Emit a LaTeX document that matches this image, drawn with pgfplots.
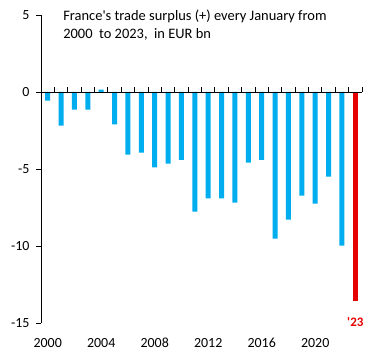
\documentclass[border=0pt]{standalone}
\usepackage{pgfplots}
\pgfplotsset{compat=1.18}
\usepackage{fontspec}
\setmainfont{Carlito}
\definecolor{barblue}{RGB}{0,174,239}
\definecolor{barred}{RGB}{230,0,0}
\begin{document}
\begin{tikzpicture}
\begin{axis}[
  scale only axis,
  width=321bp, height=308bp,
  xmin=-0.5, xmax=23.5,
  ymin=-15, ymax=5,
  axis y line=left,
  axis x line=bottom,
  x axis line style={draw=none},
  xtick=\empty,
  ytick={-15,-10,-5,0,5},
  yticklabels={-15,-10,-5,0,5},
  /pgf/number format/assume math mode=true,
  tick align=outside,
  major tick length=5bp,
  y axis line style={-,black,line width=0.8pt},
  ytick style={black,line width=0.8pt},
  yticklabel style={font=\fontsize{14}{16}\selectfont, xshift=-3bp},
  clip=false,
]
\addplot[ybar, bar width=5bp, fill=barblue, draw=none] coordinates {
(0,-0.56) (1,-2.19) (2,-1.15) (3,-1.15) (4,0.15) (5,-2.1) (6,-4.07) (7,-3.94)
(8,-4.9) (9,-4.65) (10,-4.4) (11,-7.77) (12,-6.9) (13,-6.9) (14,-7.19) (15,-4.59)
(16,-4.4) (17,-9.52) (18,-8.29) (19,-6.73) (20,-7.25) (21,-5.5) (22,-9.98)
};
\addplot[ybar, bar width=5bp, fill=barred, draw=none] coordinates {(23,-13.6)};
\addplot[ycomb, black, line width=0.8pt, no marks] coordinates {
(-0.5,0.3) (0.5,0.3) (1.5,0.3) (2.5,0.3) (3.5,0.3) (4.5,0.3) (5.5,0.3) (6.5,0.3)
(7.5,0.3) (8.5,0.3) (9.5,0.3) (10.5,0.3) (11.5,0.3) (12.5,0.3) (13.5,0.3) (14.5,0.3)
(15.5,0.3) (16.5,0.3) (17.5,0.3) (18.5,0.3) (19.5,0.3) (20.5,0.3) (21.5,0.3) (22.5,0.3) (23.5,0.3)
};
\draw[black,line width=0.8pt] (axis cs:-0.5,0) -- (axis cs:23.5,0);
\pgfplotsinvokeforeach{0,4,8,12,16,20}{\node[anchor=base,font=\fontsize{14}{16}\selectfont] at ([yshift=-24bp]axis cs:#1,-15) {\the\numexpr2000+#1\relax};}
\node[anchor=center,text=barred,font=\fontsize{13}{15}\selectfont\bfseries] at ([yshift=1bp]axis cs:23,-15) {\textquotesingle23};
\node[anchor=north west,align=left,inner sep=0pt,font=\fontsize{14.5}{18}\selectfont] at ([yshift=5bp]rel axis cs:0.069,1) {France\textquotesingle s trade surplus (+) every January from\\2000\ \ to 2023,\ \ in EUR bn};
\end{axis}
\path (current axis.south west) ++(-41bp,-37bp) rectangle ++(384bp,360bp);
\end{tikzpicture}
\end{document}
